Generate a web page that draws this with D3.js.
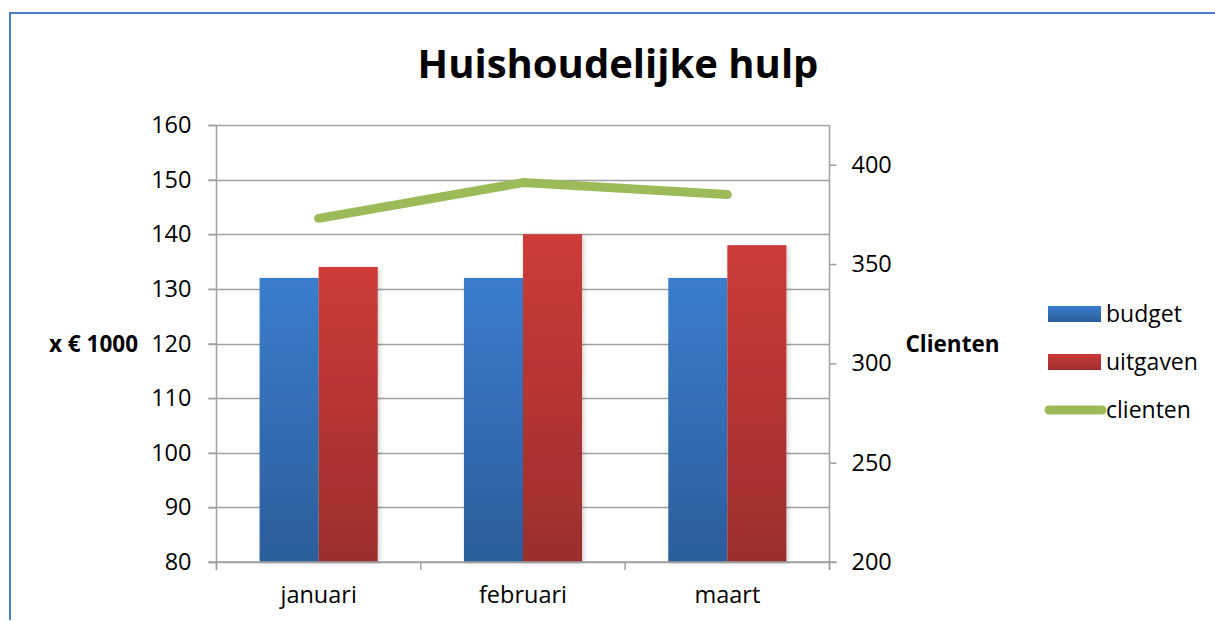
<!DOCTYPE html>
<html><head><meta charset="utf-8">
<script src="https://cdn.jsdelivr.net/npm/d3@7"></script>
<style>html,body{margin:0;padding:0;background:#fff;}svg{display:block;font-family:"Open Sans","Noto Sans",sans-serif;}</style>
</head><body>
<svg id="chart" width="1215" height="621"></svg>
<script>
const categories = ["januari", "februari", "maart"];
const budget = [132, 132, 132];
const uitgaven = [134, 140, 138];
const clienten = [373, 391, 385];
const leftTicks = [80, 90, 100, 110, 120, 130, 140, 150, 160];
const rightTicks = [200, 250, 300, 350, 400];
const seriesNames = ["budget", "uitgaven", "clienten"];

const svg = d3.select("#chart");
const defs = svg.append("defs");
function grad(id, c1, c2){
  const g = defs.append("linearGradient").attr("id", id).attr("x1",0).attr("y1",0).attr("x2",0).attr("y2",1);
  g.append("stop").attr("offset","0%").attr("stop-color",c1);
  g.append("stop").attr("offset","100%").attr("stop-color",c2);
}
grad("gBlue", "#3A7DCC", "#2C5D9B");
grad("gRed", "#CD3B38", "#9C2E2D");
const f = defs.append("filter").attr("id","sh").attr("x","-10%").attr("y","-10%").attr("width","130%").attr("height","120%");
f.append("feDropShadow").attr("dx",2).attr("dy",1).attr("stdDeviation",2).attr("flood-color","#000").attr("flood-opacity",0.18);

// border
svg.append("path").attr("d","M10,620 L10,13 L1215,13").attr("fill","none").attr("stroke","#4A7EC8").attr("stroke-width",2);

const L = 216.5, R = 829.5, T = 125, B = 562;
const x = d3.scaleBand().domain(categories).range([L, R]).paddingInner(0).paddingOuter(0);
const y = d3.scaleLinear().domain([80, 160]).range([B, T]);
const y2 = d3.scaleLinear().domain([200, 420]).range([B, T]);
const xs = d3.scaleBand().domain(["budget","uitgaven"]).range([0, x.bandwidth()]).paddingInner(0).paddingOuter(0.73);

// gridlines
svg.append("g").selectAll("line").data(leftTicks).join("line")
  .attr("x1", L-8).attr("x2", R).attr("y1", d=>Math.round(y(d))+0.5).attr("y2", d=>Math.round(y(d))+0.5)
  .attr("stroke","#A0A0A0").attr("stroke-width",1.5);

// bars
const bars = svg.append("g");
categories.forEach((c,i)=>{
  [["budget", budget[i], "url(#gBlue)"],["uitgaven", uitgaven[i], "url(#gRed)"]].forEach(([k,v,fill])=>{
    bars.append("rect").attr("x", x(c)+xs(k)).attr("width", xs.bandwidth())
      .attr("y", y(v)).attr("height", B - y(v)).attr("fill", fill).attr("filter","url(#sh)");
  });
});

// axes
const gl = svg.append("g").attr("transform",`translate(${L},0)`)
  .call(d3.axisLeft(y).tickValues(leftTicks).tickSize(8).tickPadding(17).tickFormat(d3.format("d")));
const gr = svg.append("g").attr("transform",`translate(${R},0)`)
  .call(d3.axisRight(y2).tickValues(rightTicks).tickSize(7).tickPadding(15).tickFormat(d3.format("d")));
const gb = svg.append("g").attr("transform",`translate(0,${B})`)
  .call(d3.axisBottom(x).tickSize(0).tickPadding(24));
// category boundary ticks
const bounds = [L].concat(categories.map(c=>x(c)+x.bandwidth()));
gb.selectAll(".btick").data(bounds).join("line").attr("class","btick")
  .attr("x1", d=>d).attr("x2", d=>d).attr("y1",0).attr("y2",8).attr("stroke","#A0A0A0").attr("stroke-width",1.5);
[gl, gr, gb].forEach(g=>{
  g.selectAll(".domain").attr("stroke","#A0A0A0").attr("stroke-width",1.5);
  g.selectAll(".tick line").attr("stroke","#A0A0A0").attr("stroke-width",1.5);
  g.selectAll("text").attr("fill","#000").style("font-size","23.5px").style("font-family","'Open Sans','Noto Sans',sans-serif");
});
gl.select(".domain").attr("d", `M0,${B+8}V${T}`);
gr.select(".domain").attr("d", `M0,${T}V${B+8}`);
gb.select(".domain").attr("d", `M${L-8},0H${R+7}`);

// line
const line = d3.line().x((d,i)=>x(categories[i]) + x.bandwidth()/2).y(d=>y2(d));
svg.append("path").datum(clienten).attr("d", line).attr("fill","none")
  .attr("stroke","#9BBB59").attr("stroke-width",9).attr("stroke-linecap","round").attr("stroke-linejoin","round");

// title
svg.append("text").attr("x", 618).attr("y", 78).attr("text-anchor","middle")
  .style("font-size","40px").style("font-weight","bold").text("Huishoudelijke hulp");
// axis titles
svg.append("text").attr("x", 93.5).attr("y", 352).attr("text-anchor","middle")
  .style("font-size","22.5px").style("font-weight","bold").text("x € 1000");
svg.append("text").attr("x", 952.5).attr("y", 352).attr("text-anchor","middle")
  .style("font-size","22.5px").style("font-weight","bold").text("Clienten");

// legend
const lg = svg.append("g");
const ly = [314, 362, 410];
const fills = ["url(#gBlue)", "url(#gRed)"];
seriesNames.forEach((n,i)=>{
  if(i<2){
    lg.append("rect").attr("x",1048).attr("y",ly[i]-8).attr("width",53).attr("height",16).attr("fill",fills[i]);
  } else {
    lg.append("line").attr("x1",1049).attr("x2",1102).attr("y1",ly[i]).attr("y2",ly[i])
      .attr("stroke","#9BBB59").attr("stroke-width",9).attr("stroke-linecap","round");
  }
  lg.append("text").attr("x",1106).attr("y",ly[i]+8).style("font-size","23px").text(n);
});
</script>
</body></html>
